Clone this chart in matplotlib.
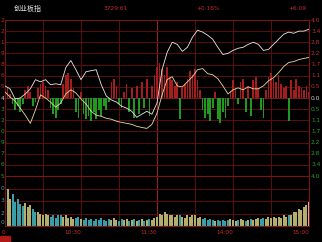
import numpy as np
import matplotlib.pyplot as plt
from matplotlib.patches import Rectangle

plt.rcParams['font.family'] = ['Noto Sans CJK SC', 'DejaVu Sans']

# header
index_name = '创业板指'
last_price = '3729.61'
change_pct = '+0.16%'
change_pts = '+6.09'

# index line and lead line, % change, one point every 4 minutes (9:30 -> 15:00)
minutes4 = list(range(0, 241, 4))
index_pct = [0.62, 0.47, -0.05, 0.0, 0.21, 0.47, 0.94, 0.83, 0.94, 0.68,
             0.73, 0.68, 1.56, 1.92, 1.45, 0.94, 1.35, 1.40, 1.45, 0.68,
             0.10, -0.10, -0.21, -0.42, -0.52, -0.68, -0.99, -0.83, -0.68, -0.83,
             -0.26, 1.45, 2.34, 2.86, 2.75, 2.39, 2.60, 3.12, 3.48, 3.38,
             3.22, 3.01, 2.60, 2.23, 2.29, 2.44, 2.55, 2.60, 2.75, 2.86,
             2.75, 2.44, 2.49, 2.75, 3.01, 3.27, 3.38, 3.32, 3.43, 3.43, 3.53]
lead_pct = [0.31, 0.05, -0.16, -0.52, -0.88, -1.30, -0.62, 0.16, 0.0, -0.21,
            -0.47, -0.26, 0.21, 0.42, 0.26, -0.05, -0.31, -0.68, -0.88, -0.94,
            -1.04, -1.09, -1.19, -1.25, -1.30, -1.35, -1.45, -1.51, -1.56, -1.35,
            -0.78, 0.16, 0.94, 1.09, 0.62, 0.57, 0.83, 1.09, 1.45, 1.51,
            1.25, 1.19, 0.99, 0.62, 0.21, 0.42, 0.52, 0.42, 0.57, 0.47,
            0.47, 0.62, 0.88, 1.04, 1.30, 1.61, 1.82, 1.87, 1.97, 2.03, 2.08]

# red/green strength bars and volume, every 2 minutes
minutes2 = list(range(0, 241, 2))
strength = [0.3, 0.5, 0.2, -0.3, -0.6, -0.4, -0.7, -0.3, 0.4, 0.6,
            0.3, -0.4, -0.2, 0.5, 0.7, 0.8, 0.6, 0.4, -0.5, -0.8,
            -1.0, -0.6, -0.3, 0.7, 1.2, 1.3, 1.0, 0.5, -0.7, -1.0,
            0.3, -0.8, -1.1, -0.9, -1.2, -0.7, -1.1, -0.6, -0.9, -0.4,
            -0.6, -0.2, 0.8, 1.0, 0.6, -0.3, -0.5, 0.3, 0.7, -0.7,
            0.5, -1.0, 0.6, -0.8, 0.8, -0.5, 1.0, -0.9, 0.6, 1.2,
            1.6, 1.8, 1.5, 1.2, 1.6, 1.1, 0.9, 0.6, 0.8, -1.1,
            0.5, 0.7, 1.0, 1.4, 1.2, 1.5, 0.9, 0.4, -0.6, -1.0,
            -0.8, -1.2, -0.5, 0.3, -1.1, -1.3, -0.7, -1.0, -0.4, 0.3,
            0.9, 0.5, -0.3, 0.8, 1.0, -0.7, 0.6, -0.9, 0.9, 1.1,
            0.5, -0.6, -1.0, 0.4, 1.1, 1.3, 1.0, 0.8, 1.2, 0.7,
            0.5, 0.6, -1.2, 0.9, 0.4, 1.0, 0.6, 0.5, 0.4, 0.6,
            0.3]
volume = [3.4, 3.0, 2.2, 2.6, 1.9, 2.2, 1.75, 1.6, 1.85, 1.5,
          1.65, 1.35, 1.1, 1.15, 1.0, 0.85, 1.0, 0.9, 0.75, 0.85,
          0.65, 0.85, 0.9, 0.75, 0.85, 0.65, 0.75, 0.6, 0.65, 0.75,
          0.6, 0.5, 0.65, 0.5, 0.6, 0.4, 0.6, 0.5, 0.65, 0.5,
          0.4, 0.6, 0.5, 0.65, 0.5, 0.4, 0.6, 0.5, 0.6, 0.4,
          0.5, 0.6, 0.4, 0.5, 0.6, 0.4, 0.5, 0.6, 0.5, 0.65,
          0.75, 1.0, 0.9, 1.1, 1.0, 0.85, 0.9, 0.75, 0.85, 0.9,
          0.75, 0.65, 0.85, 0.75, 0.9, 0.85, 0.65, 0.75, 0.6, 0.65,
          0.5, 0.6, 0.5, 0.4, 0.5, 0.4, 0.5, 0.4, 0.5, 0.6,
          0.5, 0.4, 0.5, 0.6, 0.5, 0.4, 0.5, 0.6, 0.5, 0.6,
          0.65, 0.6, 0.65, 0.6, 0.75, 0.65, 0.75, 0.65, 0.75, 0.65,
          0.85, 0.75, 0.85, 0.9, 1.1, 1.15, 1.35, 1.25, 1.5, 1.65,
          1.9]

# axis labels as they show at the picture edges
pct_labels = ['4.0', '3.4', '2.8', '2.2', '1.7', '1.1', '0.5', '0.0',
              '0.5', '1.1', '1.7', '2.2', '2.8', '3.4', '4.0']
price_labels = ['2', '2', '1', '9', '8', '6', '5', '4',
                '3', '2', '0', '9', '7', '6', '5']
vol_labels = ['0', '3', '2', '0']
time_pos = [0, 60, 120, 180, 240]
time_labels = ['0', '10:30', '11:30', '14:00', '15:00']

RED = '#c42c2c'
GREEN = '#25a025'
GRID = '#5e0d0d'

W, H = 322, 242
def box(l, t, r, b):
    return [l / W, 1 - b / H, (r - l) / W, (b - t) / H]

fig = plt.figure(figsize=(W / 100, H / 100), dpi=100, facecolor='black')
axp = fig.add_axes(box(5, 20, 309, 176), facecolor='black')
axv = fig.add_axes(box(5, 176, 309, 226), facecolor='black', sharex=axp)

levels = np.linspace(4, -4, 15)
for ax in (axp, axv):
    for sp in ax.spines.values():
        sp.set_color('#7a1616')
        sp.set_linewidth(0.8)
    ax.set_xticks([])
    ax.set_yticks([])
    for m in range(30, 240, 30):
        ax.axvline(m, color='#a02424' if m == 120 else GRID, lw=0.7, zorder=0)

for v in levels[1:-1]:
    axp.axhline(v, color='#7a1a1a' if v == 0 else GRID, lw=0.7, zorder=0)
for v in [1, 2, 3]:
    axv.axhline(v, color=GRID, lw=0.7, zorder=0)

# strength bars
s = np.array(strength)
axp.bar(minutes2, s, width=1.4, color=np.where(s > 0, '#a51d1d', '#1f9a1f'),
        linewidth=0, zorder=2)
axp.plot(minutes4, lead_pct, color='#e6dca0', lw=0.6, zorder=3)
axp.plot(minutes4, index_pct, color='#e8e8e8', lw=0.6, zorder=4)
axp.set_xlim(0, 240)
axp.set_ylim(-4, 4)

# volume
vol_colors = np.where(s > 0, '#b3ae6c', '#3a9ea8')
vol_colors[-1] = '#e0b0b0'
axv.bar(minutes2, volume, width=1.6, color=vol_colors, linewidth=0, zorder=2)
axv.set_ylim(0, 4)

# right % labels and left price labels
ytr = axp.get_yaxis_transform()
for v, pl, lab in zip(levels, pct_labels, price_labels):
    c = RED if v > 0.01 else (GREEN if v < -0.01 else '#d0d0d0')
    axp.text(1 + 2 / 304, v, pl, transform=ytr, color=c,
             fontsize=4.2, va='center', ha='left', family='DejaVu Sans')
    axp.text(-0.5 / 304, v, lab, transform=ytr, color=c, fontsize=4.2,
             va='center', ha='right', family='DejaVu Sans')

vtr = axv.get_yaxis_transform()
for v, lab in zip([3, 2, 1, 0.25], vol_labels):
    axv.text(-0.5 / 304, v, lab, transform=vtr, color='#3aa8b8', fontsize=4.2,
             va='center', ha='right', family='DejaVu Sans')

xtr = axv.get_xaxis_transform()
for m, lab in zip(time_pos, time_labels):
    axv.text(m, -0.12, lab, transform=xtr, color=RED, fontsize=4.2,
             va='center', ha='right', family='DejaVu Sans')

# header row
fig.text(14 / W, 1 - 9 / H, index_name, color='#e0e0e0', fontsize=5, va='center')
fig.text(103 / W, 1 - 9 / H, last_price, color=RED, fontsize=4.2, va='center',
         family='DejaVu Sans')
fig.text(196 / W, 1 - 9 / H, change_pct, color=RED, fontsize=4.2, va='center',
         family='DejaVu Sans')
fig.text(288 / W, 1 - 9 / H, change_pts, color=RED, fontsize=4.2, va='center',
         family='DejaVu Sans')

fig.patches.append(Rectangle((0, 0), 10 / W, 6 / H, transform=fig.transFigure,
                             color='#b01818'))

fig.savefig('out.png', dpi=100, facecolor='black')
